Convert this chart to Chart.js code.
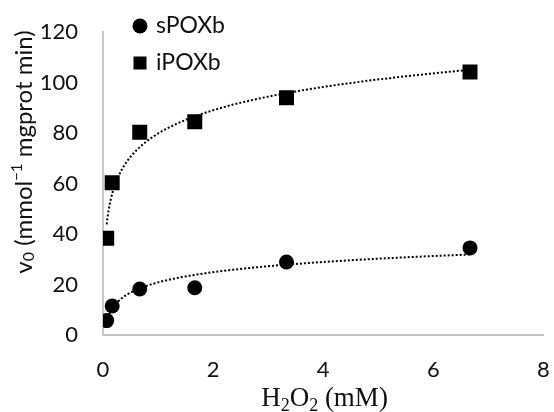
<!DOCTYPE html>
<html><head><meta charset="utf-8">
<script src="https://cdn.jsdelivr.net/npm/chart.js@4"></script>
<style>html,body{margin:0;padding:0;background:#fff}#wrap{width:554px;height:412px;position:relative}</style>
</head><body><div id="wrap"><canvas id="c" width="554" height="412"></canvas></div>
<script>
// ---- data ----
const concentrations = [0.067, 0.167, 0.667, 1.667, 3.333, 6.667]; // H2O2 (mM)
const sPOXb = [5.7, 11.5, 18.2, 18.7, 28.9, 34.5];
const iPOXb = [38.3, 60.3, 80.3, 84.5, 94.0, 104.2];
const seriesNames = ['sPOXb', 'iPOXb'];
const xTicks = [0, 2, 4, 6, 8];
const yTicks = [0, 20, 40, 60, 80, 100, 120];

// logarithmic trendline (least squares on ln x), like the spreadsheet's dotted fit
function logFit(xs, ys) {
  const lx = xs.map(Math.log);
  const n = xs.length;
  const mx = lx.reduce((s, v) => s + v, 0) / n;
  const my = ys.reduce((s, v) => s + v, 0) / n;
  let sxy = 0, sxx = 0;
  for (let i = 0; i < n; i++) { sxy += (lx[i] - mx) * (ys[i] - my); sxx += (lx[i] - mx) ** 2; }
  const a = sxy / sxx;
  return { a, b: my - a * mx };
}
function trendPoints(xs, ys) {
  const { a, b } = logFit(xs, ys);
  const x0 = Math.min(...xs), x1 = Math.max(...xs);
  const pts = [];
  const steps = 120;
  for (let i = 0; i <= steps; i++) {
    const x = x0 * Math.pow(x1 / x0, i / steps);
    pts.push({ x, y: a * Math.log(x) + b });
  }
  return pts;
}
const toPts = (ys) => concentrations.map((x, i) => ({ x, y: ys[i] }));

const FONT = 'Lato';
const AXIS_COLOR = '#c6c6c6';
const TEXT_COLOR = '#111';

function drawParts(ctx, parts, cx, cy, align) {
  let total = 0;
  parts.forEach(p => { ctx.font = p.font; p.w = ctx.measureText(p.t).width; total += p.w; });
  let x = align === 'center' ? cx - total / 2 : cx;
  parts.forEach(p => { ctx.font = p.font; ctx.fillText(p.t, x, cy + (p.dy || 0)); x += p.w; });
}

const overlay = {
  id: 'overlay',
  afterDraw(chart) {
    const ctx = chart.ctx;
    ctx.save();
    ctx.fillStyle = '#000';
    // legend
    ctx.beginPath(); ctx.arc(140, 26, 7.5, 0, Math.PI * 2); ctx.fill();
    ctx.fillRect(133.5, 56.5, 13, 13);
    ctx.fillStyle = TEXT_COLOR;
    ctx.font = '23px ' + FONT;
    ctx.textAlign = 'left';
    ctx.textBaseline = 'middle';
    ctx.fillText(seriesNames[0], 156, 26);
    ctx.fillText(seriesNames[1], 156, 63);

    // y axis title (rotated)
    ctx.save();
    ctx.translate(24, 152);
    ctx.rotate(-Math.PI / 2);
    ctx.textAlign = 'left';
    ctx.textBaseline = 'middle';
    drawParts(ctx, [
      { t: 'v', font: '24px ' + FONT },
      { t: '0', font: '16px ' + FONT, dy: 5 },
      { t: ' (mmol', font: '24px ' + FONT },
      { t: '\u22121', font: '15px ' + FONT, dy: -7 },
      { t: ' mgprot min)', font: '24px ' + FONT }
    ], 0, 0, 'center');
    ctx.restore();

    // x axis title
    ctx.textBaseline = 'alphabetic';
    const serif = '"Liberation Serif", "Times New Roman", serif';
    drawParts(ctx, [
      { t: 'H', font: '27px ' + serif },
      { t: '2', font: '18px ' + serif, dy: 5 },
      { t: 'O', font: '27px ' + serif },
      { t: '2', font: '18px ' + serif, dy: 5 },
      { t: ' (mM)', font: '27px ' + serif }
    ], 324.5, 406, 'center');
    ctx.restore();
  }
};

const noPad = (s) => { s.paddingLeft = 0; s.paddingRight = 0; s.paddingTop = 0; s.paddingBottom = 0; };

function build() {
  new Chart(document.getElementById('c'), {
    type: 'scatter',
    data: {
      datasets: [
        { label: seriesNames[0] + ' fit', data: trendPoints(concentrations, sPOXb), showLine: true,
          borderColor: '#000', borderWidth: 2, borderDash: [2, 2], pointRadius: 0, fill: false, tension: 0 },
        { label: seriesNames[1] + ' fit', data: trendPoints(concentrations, iPOXb), showLine: true,
          borderColor: '#000', borderWidth: 2, borderDash: [2, 2], pointRadius: 0, fill: false, tension: 0 },
        { label: seriesNames[0], data: toPts(sPOXb), pointStyle: 'circle', pointRadius: 7.5,
          backgroundColor: '#000', borderColor: '#000', borderWidth: 0 },
        { label: seriesNames[1], data: toPts(iPOXb), pointStyle: 'rect', pointRadius: 10.6,
          backgroundColor: '#000', borderColor: '#000', borderWidth: 0 }
      ]
    },
    options: {
      responsive: false,
      devicePixelRatio: 1,
      animation: false,
      events: [],
      layout: { padding: { top: 32, right: 8, left: 0, bottom: 0 } },
      plugins: { legend: { display: false }, tooltip: { enabled: false }, title: { display: false } },
      scales: {
        x: {
          type: 'linear', min: xTicks[0], max: xTicks[xTicks.length - 1],
          afterBuildTicks: (s) => { s.ticks = xTicks.map(v => ({ value: v })); },
          afterFit: (s) => { s.height = 77; noPad(s); },
          grid: { display: false, drawTicks: false },
          border: { display: true, color: AXIS_COLOR, width: 2 },
          ticks: { font: { family: FONT, size: 22 }, color: TEXT_COLOR, padding: 22, maxRotation: 0 }
        },
        y: {
          type: 'linear', min: yTicks[0], max: yTicks[yTicks.length - 1],
          afterBuildTicks: (s) => { s.ticks = yTicks.map(v => ({ value: v })); },
          afterFit: (s) => { s.width = 103; noPad(s); },
          grid: { display: false, drawTicks: false },
          border: { display: true, color: AXIS_COLOR, width: 2 },
          ticks: { font: { family: FONT, size: 22 }, color: TEXT_COLOR, padding: 25 }
        }
      }
    },
    plugins: [overlay]
  });
}
Promise.all([
  document.fonts.load('22px Lato'),
  document.fonts.load('27px "Liberation Serif"')
]).then(build, build);
</script>
</body></html>
